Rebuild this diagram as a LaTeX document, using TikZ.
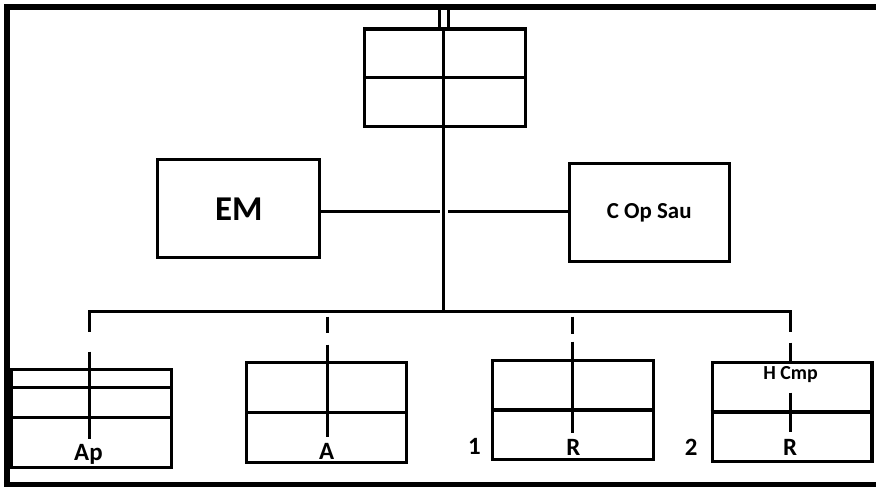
\documentclass[tikz,border=0pt]{standalone}
\usepackage{fontspec}
\setmainfont{Carlito}
\usetikzlibrary{calc}
\begin{document}
\begin{tikzpicture}[x=1bp,y=-1bp,
  ln/.style={line width=3.1bp},
  frame/.style={line width=6bp, line join=miter},
  box/.style={draw, rectangle, line width=3.1bp, inner sep=0pt},
  lbl/.style={inner sep=0pt, anchor=base, font=\bfseries\fontsize{25}{29}\selectfont},
  small/.style={inner sep=0pt, anchor=base, font=\bfseries\fontsize{20}{24}\selectfont}]
\useasboundingbox[fill=white] (0,0) rectangle (877,487.5);
% frame
\draw[frame] (7,490) -- (7,7) -- (880,7);
\draw[line width=5bp] (4,485.5) -- (880,485.5);
% top box
\node[box, minimum width=161bp, minimum height=98bp] (top) at (445.5,78) {};
\draw[ln] (top.west) -- (top.east);
\coordinate (d1) at (440,9);
\coordinate (d2) at (449,9);
\draw[ln] (d1) -- (d1 |- top.north);
\draw[ln] (d2) -- (d2 |- top.north);
\coordinate (tk) at (444,312);
\draw[ln] (tk |- top.north) -- (tk);
% EM and C Op Sau
\node[box, minimum width=162bp, minimum height=98bp,
      font=\bfseries\fontsize{35}{40}\selectfont] (em) at (239,209) {EM};
\node[box, minimum width=160bp, minimum height=98bp,
      font=\bfseries\fontsize{23}{27}\selectfont] (cos) at (650,213) {C Op Sau};
\coordinate (eml) at (440,212);
\coordinate (cosl) at (449,212);
\draw[ln] (em.east |- eml) -- (eml);
\draw[ln] (cosl) -- (cos.west |- cosl);
% bus
\coordinate (bl) at (90,312);
\coordinate (br) at (791,312);
\coordinate (blb) at (90,332);
\coordinate (brb) at (791,332);
\draw[ln] (blb) -- (bl) -- (tk) -- (br) -- (brb);
% Ap box
\node[box, minimum width=161bp, minimum height=98bp] (ap) at (91.5,419) {};
\draw[ln] ($(ap.north west)!0.194!(ap.south west)$) -- ($(ap.north east)!0.194!(ap.south east)$);
\draw[ln] ($(ap.north west)!0.49!(ap.south west)$) -- ($(ap.north east)!0.49!(ap.south east)$);
\coordinate (apv1) at (90,352);
\coordinate (apv2) at (90,440);
\draw[ln] (apv1) -- (apv2);
\node[lbl] (apt) at (88.5,461) {Ap};
% A box
\node[box, minimum width=160bp, minimum height=100bp] (a) at (327,413) {};
\draw[ln] (a.west) -- (a.east);
\coordinate (ad1) at (328,317);
\coordinate (ad2) at (328,333);
\coordinate (av1) at (328,345);
\coordinate (av2) at (328,437);
\draw[ln] (ad1) -- (ad2);
\draw[ln] (av1) -- (av2);
\node[lbl] (at) at (327,460) {A};
% R1 box
\node[box, minimum width=161bp, minimum height=99bp] (r1) at (573.5,410.5) {};
\draw[ln] (r1.west) -- (r1.east);
\coordinate (rd1) at (573,317);
\coordinate (rd2) at (573,334);
\coordinate (rv1) at (573,342);
\coordinate (rv2) at (573,433);
\draw[ln] (rd1) -- (rd2);
\draw[ln] (rv1) -- (rv2);
\node[lbl] (r1t) at (574,456) {R};
\node[lbl] (n1) at (475,455) {1};
% R2 box
\node[box, minimum width=160bp, minimum height=99bp] (r2) at (793,412.5) {};
\draw[ln] (r2.west) -- (r2.east);
\coordinate (sv1) at (791,343);
\draw[ln] (sv1) -- (sv1 |- r2.north);
\coordinate (sv2) at (791,393);
\coordinate (sv3) at (791,432);
\draw[ln] (sv2) -- (sv3);
\node[small] (hc) at (791.5,380) {H Cmp};
\node[lbl] (r2t) at (791,456) {R};
\node[lbl] (n2) at (692,456) {2};
\end{tikzpicture}
\end{document}
